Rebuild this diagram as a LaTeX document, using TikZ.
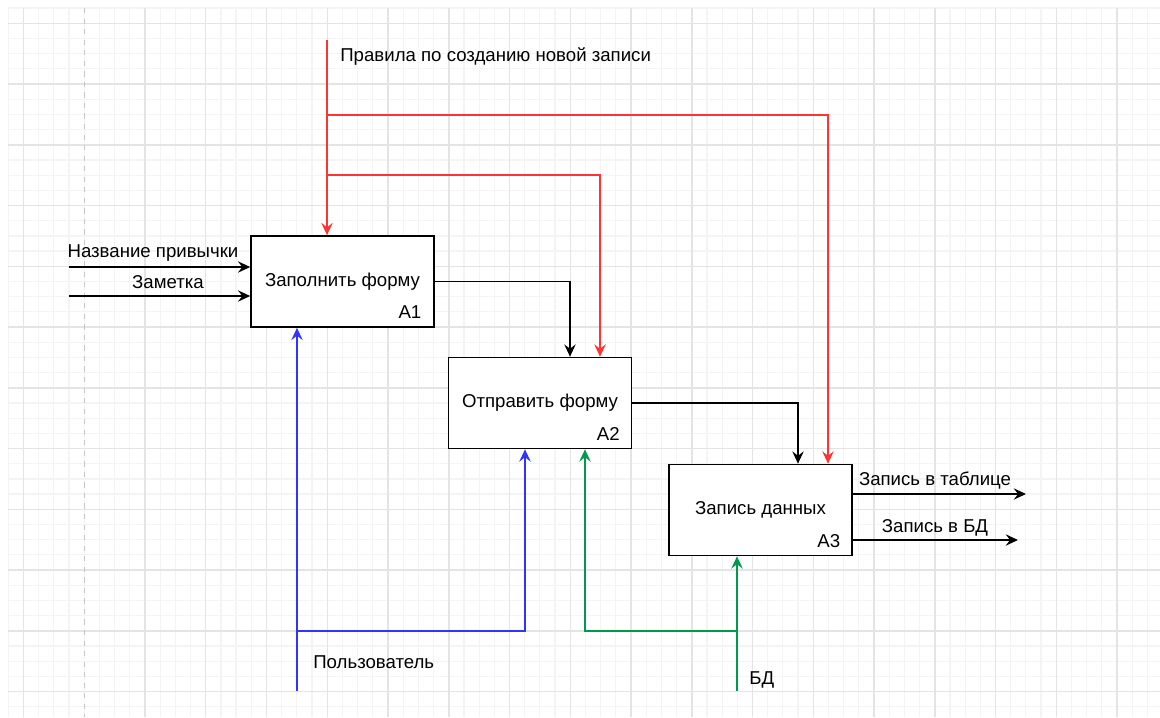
\documentclass[tikz,border=0pt]{standalone}
\usepackage{fontspec}
\setmainfont{Liberation Sans}
\usetikzlibrary{arrows.meta}
\definecolor{ctrlred}{HTML}{FF3333}
\definecolor{mechblue}{HTML}{3333FF}
\definecolor{mechgreen}{HTML}{00994D}
\definecolor{gridminor}{HTML}{F4F4F4}
\definecolor{gridmajor}{HTML}{E4E4E4}
\begin{document}
\begin{tikzpicture}[x=0.02cm,y=-0.02cm,
    font=\fontsize{10.6}{12}\selectfont,
    fbox/.style={draw,fill=white,line width=0.95pt,minimum width=3.66cm,minimum height=1.82cm,inner sep=0pt},
    tag/.style={anchor=south east,inner sep=0pt},
    lbl/.style={anchor=base,inner sep=0pt},
    arr/.style={line width=0.8pt,-{Stealth[length=7pt,width=6.5pt,inset=2.5pt]}}]
  \useasboundingbox (0,0) rectangle (1160,717);
  % grid
  \foreach \i in {0,...,75} \draw[gridminor,line width=0.7pt] (8.3+15.1875*\i,8) -- ++(0,709);
  \foreach \j in {0,...,46} \draw[gridminor,line width=0.7pt] (8,8.1+15.1875*\j) -- ++(1152,0);
  \foreach \i in {0,2,3,...,18} \draw[gridmajor,line width=0.85pt] (23.5+60.75*\i,8) -- ++(0,709);
  \foreach \j in {0,...,11} \draw[gridmajor,line width=0.85pt] (8,23.3+60.75*\j) -- ++(1152,0);
  \draw[gray!45,line width=0.7pt,dashed] (84.25,8) -- ++(0,709);

  \node[fbox] (fill)  at (342.5,281.5) {Заполнить форму};
  \node[fbox] (send)  at (540,403)     {Отправить форму};
  \node[fbox] (store) at (760.5,510)   {Запись данных};
  \node[tag] (fillTag)  at ([xshift=-7.5pt,yshift=5pt]fill.south east)  {A1};
  \node[tag] (sendTag)  at ([xshift=-7pt,yshift=5pt]send.south east)    {A2};
  \node[tag] (storeTag) at ([xshift=-7pt,yshift=5pt]store.south east)   {A3};

  % inputs
  \coordinate (nameIn) at (69,267);
  \coordinate (noteIn) at (69,296);
  \draw[arr] (nameIn) -- (nameIn -| fill.west);
  \draw[arr] (noteIn) -- (noteIn -| fill.west);
  \node[lbl] (nameLbl) at (153,257.5) {Название привычки};
  \node[lbl] (noteLbl) at (168,288)   {Заметка};

  % flow between blocks
  \draw[arr] (fill.east) -| ([xshift=0.6cm]send.north);
  \draw[arr] (send.east) -| ([xshift=0.75cm]store.north);

  % control
  \coordinate (ruleTop)   at (327,40);
  \coordinate (ruleJoinA) at (327,115);
  \coordinate (ruleJoinB) at (327,175);
  \draw[arr,ctrlred] (ruleTop) -- (ruleTop |- fill.north);
  \draw[arr,ctrlred] (ruleJoinA) -| ([xshift=1.35cm]store.north);
  \draw[arr,ctrlred] (ruleJoinB) -| ([xshift=1.2cm]send.north);
  \node[lbl,anchor=base west] (ruleLbl) at (340,61) {Правила по созданию новой записи};

  % mechanisms
  \coordinate (userBot)  at (297,691);
  \coordinate (userJoin) at (297,631);
  \draw[arr,mechblue] (userBot) -- (userBot |- fill.south);
  \draw[arr,mechblue] (userJoin) -| ([xshift=-0.3cm]send.south);
  \node[lbl,anchor=base west] (userLbl) at (313,668) {Пользователь};

  \coordinate (dbBot)  at (737,691);
  \coordinate (dbJoin) at (737,631);
  \draw[arr,mechgreen] (dbBot) -- (dbBot |- store.south);
  \draw[arr,mechgreen] (dbJoin) -| ([xshift=0.9cm]send.south);
  \node[lbl,anchor=base west] (dbLbl) at (749,684) {БД};

  % outputs
  \coordinate (tableOut) at (1026,494);
  \coordinate (dbOut)    at (1018,540);
  \draw[arr] (store.east |- tableOut) -- (tableOut);
  \draw[arr] (store.east |- dbOut) -- (dbOut);
  \node[lbl] (tableLbl) at (935,485) {Запись в таблице};
  \node[lbl] (dbOutLbl) at (935,532) {Запись в БД};
\end{tikzpicture}
\end{document}
